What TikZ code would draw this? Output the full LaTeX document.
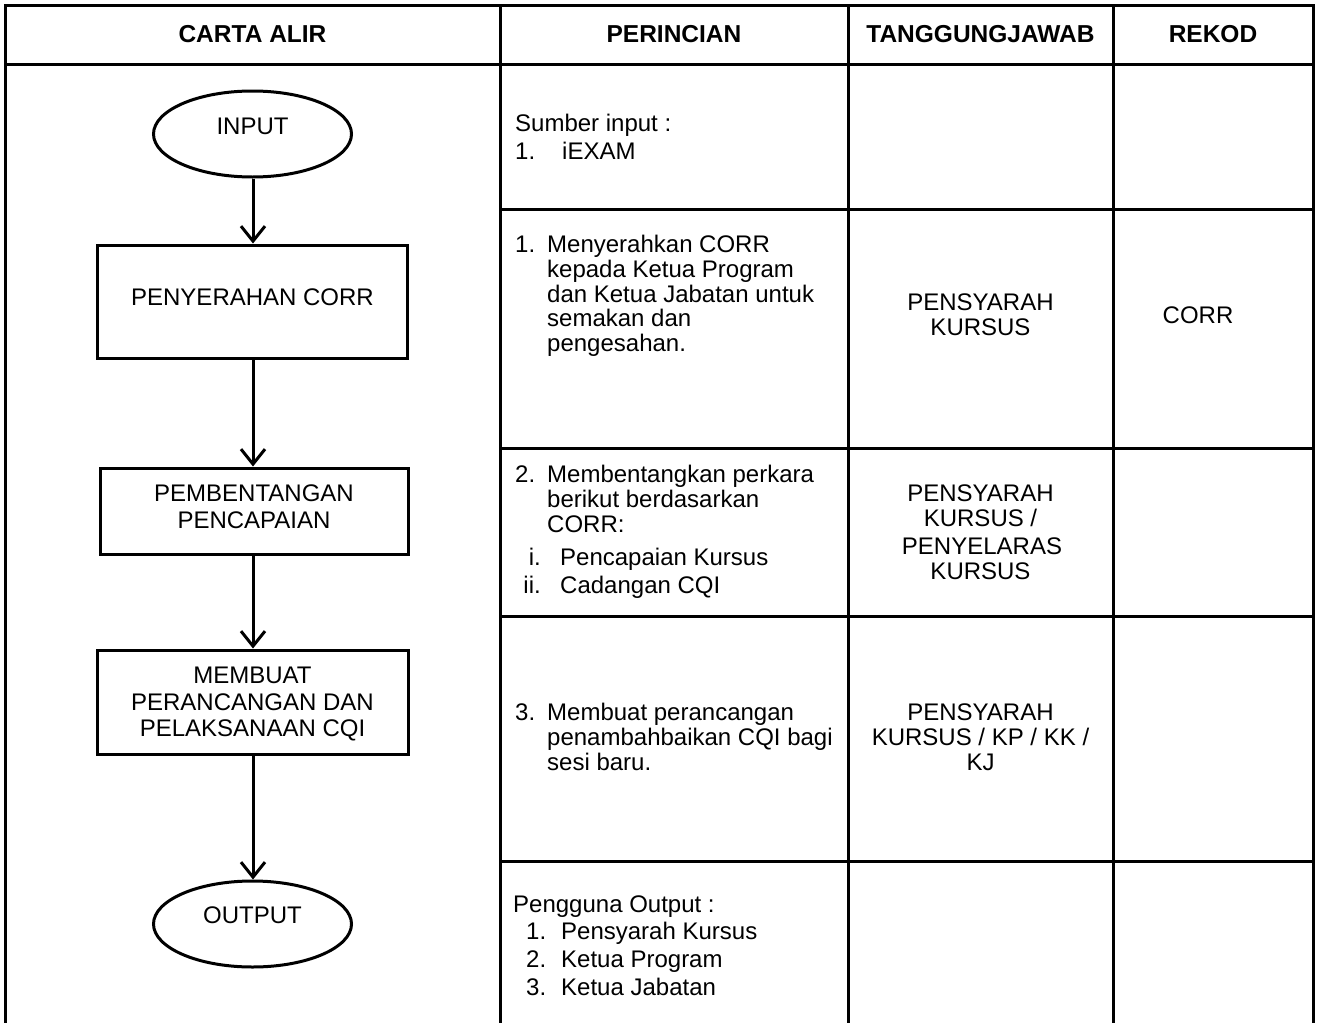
\documentclass[tikz,border=0pt]{standalone}
\usepackage{fontspec}
\setmainfont{Liberation Sans}
\usetikzlibrary{arrows.meta,shapes.geometric}
\begin{document}
\begin{tikzpicture}[x=1pt,y=-1pt,
  tl/.style={line width=3pt,line cap=rect},
  shp/.style={draw,line width=3pt,inner sep=0pt},
  txt/.style={inner sep=0pt,font=\fontsize{24}{25}\selectfont},
  lt/.style={txt,anchor=base west},
  ct/.style={txt,anchor=base},
  hd/.style={inner sep=0pt,anchor=base,font=\fontsize{24.5}{25}\selectfont\bfseries},
  arr/.style={line width=3pt,-{Straight Barb[length=15pt,width=24pt]}}]
\useasboundingbox (0,0) rectangle (1318,1023);
% table frame
\draw[tl] (5,1023) -- (5,5) -- (1313,5) -- (1313,1023);
\draw[tl] (5,64) -- (1313,64);
\draw[tl] (500,5) -- (500,1023);
\draw[tl] (848,5) -- (848,1023);
\draw[tl] (1113,5) -- (1113,1023);
\foreach \yy in {209,448,616,861} \draw[tl] (500,\yy) -- (1313,\yy);
% headers
\node[hd] (h1) at (252.5,42) {CARTA ALIR};
\node[hd] (h2) at (674,42) {PERINCIAN};
\node[hd] (h3) at (980.5,42) {TANGGUNGJAWAB};
\node[hd] (h4) at (1213,42) {REKOD};
% flowchart shapes
\node[shp,ellipse,minimum width=198pt,minimum height=86pt] (in) at (252.5,134) {};
\node[shp,rectangle,minimum width=310pt,minimum height=113pt] (b1) at (252.5,301.5) {};
\node[shp,rectangle,minimum width=308pt,minimum height=86pt] (b2) at (254,511) {};
\node[shp,rectangle,minimum width=311pt,minimum height=104pt] (b3) at (252.5,702) {};
\node[shp,ellipse,minimum width=198pt,minimum height=86pt] (out) at (252.5,924) {};
\node[ct] (tin) at (252.5,134.5) {INPUT};
\node[ct] (tb1) at (252.5,305.5) {PENYERAHAN CORR};
\node[ct] (tb2a) at (254,501.5) {PEMBENTANGAN};
\node[ct] (tb2b) at (254,528) {PENCAPAIAN};
\node[ct] (tb3a) at (252.5,683.5) {MEMBUAT};
\node[ct] (tb3b) at (252.5,710) {PERANCANGAN DAN};
\node[ct] (tb3c) at (252.5,736.5) {PELAKSANAAN CQI};
\node[ct] (tout) at (252.5,923.5) {OUTPUT};
% connectors
\draw[arr] (in.south -| 253,0) -- (b1.north -| 253,0);
\draw[arr] (b1.south -| 253,0) -- (b2.north -| 253,0);
\draw[arr] (b2.south -| 253,0) -- (b3.north -| 253,0);
\draw[arr] (b3.south -| 253,0) -- (out.north -| 253,0);
% row 1
\node[lt] (r1a) at (515,131) {Sumber input :};
\node[lt] (r1b) at (515,159) {1.};
\node[lt] (r1c) at (562,159) {iEXAM};
% row 2
\node[lt] (r2n) at (515,252) {1.};
\node[lt] (r2a) at (547,252) {Menyerahkan CORR};
\node[lt] (r2b) at (547,277) {kepada Ketua Program};
\node[lt] (r2c) at (547,302) {dan Ketua Jabatan untuk};
\node[lt] (r2d) at (547,326) {semakan dan};
\node[lt] (r2e) at (547,351) {pengesahan.};
\node[ct] (t2a) at (980.5,310) {PENSYARAH};
\node[ct] (t2b) at (980.5,335) {KURSUS};
\node[ct] (k2) at (1198,323) {CORR};
% row 3
\node[lt] (r3n) at (515,482) {2.};
\node[lt] (r3a) at (547,482) {Membentangkan perkara};
\node[lt] (r3b) at (547,507) {berikut berdasarkan};
\node[lt] (r3c) at (547,532) {CORR:};
\node[txt,anchor=base east] (r3i) at (541,565) {i.};
\node[lt] (r3d) at (560,565) {Pencapaian Kursus};
\node[txt,anchor=base east] (r3ii) at (541,593) {ii.};
\node[lt] (r3e) at (560,593) {Cadangan CQI};
\node[ct] (t3a) at (980.5,501) {PENSYARAH};
\node[ct] (t3b) at (980.5,526) {KURSUS /};
\node[ct] (t3c) at (982,554) {PENYELARAS};
\node[ct] (t3d) at (980.5,579) {KURSUS};
% row 4
\node[lt] (r4n) at (515,720) {3.};
\node[lt] (r4a) at (547,720) {Membuat perancangan};
\node[lt] (r4b) at (547,745) {penambahbaikan CQI bagi};
\node[lt] (r4c) at (547,770) {sesi baru.};
\node[ct] (t4a) at (980.5,720) {PENSYARAH};
\node[ct] (t4b) at (980.5,745) {KURSUS / KP / KK /};
\node[ct] (t4c) at (980.5,770) {KJ};
% row 5
\node[lt] (r5a) at (513,912) {Pengguna Output :};
\node[lt] (r5b) at (526,939) {1.};
\node[lt] (r5c) at (561,939) {Pensyarah Kursus};
\node[lt] (r5d) at (526,967) {2.};
\node[lt] (r5e) at (561,967) {Ketua Program};
\node[lt] (r5f) at (526,995) {3.};
\node[lt] (r5g) at (561,995) {Ketua Jabatan};
\end{tikzpicture}
\end{document}
